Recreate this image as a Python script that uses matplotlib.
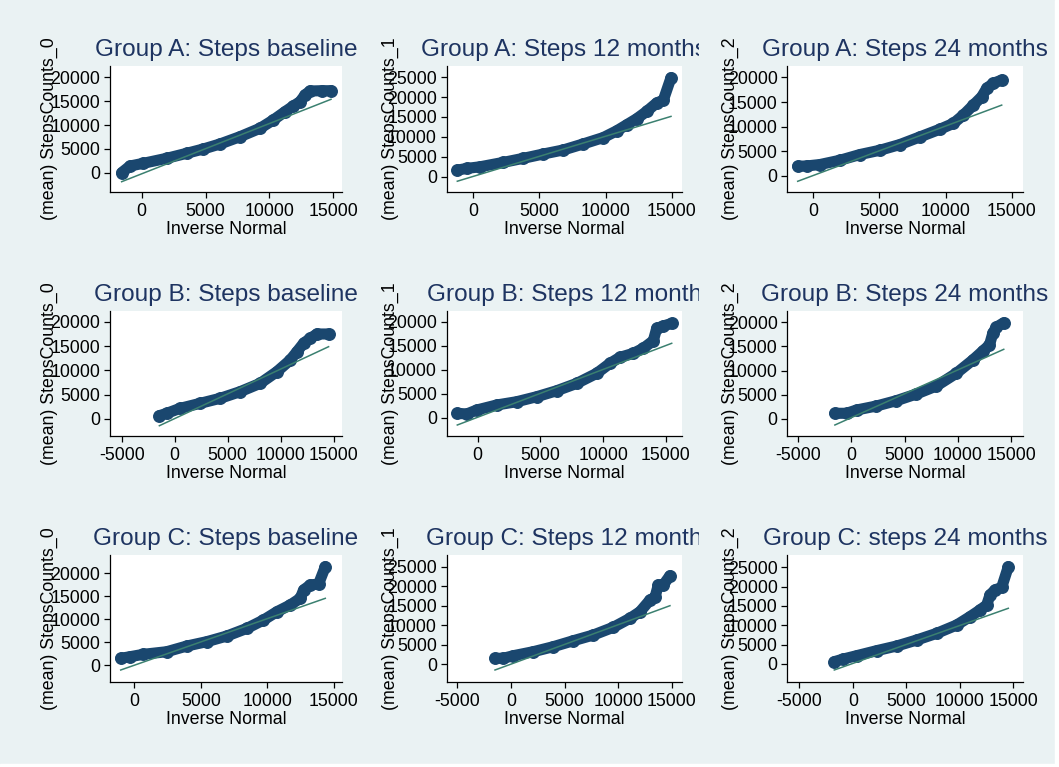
import numpy as np
import matplotlib
matplotlib.use("Agg")
from matplotlib import pyplot as plt
from matplotlib.transforms import Bbox, TransformedBbox
from matplotlib.patches import Rectangle

plt.rcParams['font.family'] = ['Liberation Sans', 'DejaVu Sans']
plt.rcParams['axes.unicode_minus'] = False

# panel titles, row by row
titles = ["Group A: Steps baseline", "Group A: Steps 12 months", "Group A: Steps 24 months",
          "Group B: Steps baseline", "Group B: Steps 12 month", "Group B: Steps 24 months",
          "Group C: Steps baseline", "Group C: Steps 12 month", "Group C: steps 24 months"]
ylabels = ["(mean) StepsCounts_0", "(mean) StepsCounts_1", "(mean) StepsCounts_2"]
xlabel = "Inverse Normal"

a0_x = [-1570, -916, 125, 1958, 3524, 4824, 6131, 7698, 9264, 10306, 11222, 11872, 12396, 12788, 13180, 14096, 14824]
a0_y = [0, 1400, 1970, 3020, 4070, 4970, 6020, 7550, 9310, 11050, 12790, 13980, 14880, 16290, 17130, 17190, 17190]
a1_x = [-1209, -499, 506, 2268, 3779, 5291, 6803, 8314, 9826, 10839, 11595, 12351, 13107, 13862, 14361, 14943]
a1_y = [1690, 2120, 2525, 3630, 4650, 5730, 6740, 8260, 9850, 11540, 13050, 14570, 16410, 18530, 19190, 24850]
a2_x = [-1179, -499, 506, 2018, 3530, 5042, 6553, 8065, 9577, 10582, 11338, 12094, 12729, 13107, 13605, 14240]
a2_y = [1970, 2030, 2320, 3190, 4350, 5220, 6380, 7930, 9490, 10650, 12340, 14370, 16060, 17770, 18790, 19460]
b0_x = [-1446, -747, 510, 2401, 4291, 6181, 8072, 9650, 10907, 11540, 12164, 12798, 13431, 14528]
b0_y = [680, 1170, 2190, 3220, 4250, 5620, 7330, 9730, 12120, 13830, 15550, 16580, 17470, 17470]
b1_x = [-1625, -876, -80, 1514, 3108, 4701, 6295, 7888, 9482, 10542, 11339, 12398, 13195, 13992, 14263, 14789, 15458]
b1_y = [920, 770, 1600, 2650, 3330, 4370, 5620, 7150, 9240, 11330, 12580, 13410, 14460, 16040, 18620, 19100, 19660]
b2_x = [-1560, -464, 473, 2348, 4222, 6097, 7971, 9846, 11401, 12338, 12966, 13275, 13594, 14306]
b2_y = [1180, 1180, 1860, 2690, 3790, 5170, 6820, 9450, 12200, 14060, 15300, 17720, 18960, 19910]
c0_x = [-1025, -324, 678, 2442, 3949, 5456, 6963, 8470, 9721, 10731, 11733, 12487, 12736, 13240, 13866, 14371]
c0_y = [1460, 1810, 2330, 2900, 4140, 5090, 6320, 7990, 9810, 11620, 13090, 14540, 16360, 17450, 17670, 21440]
c1_x = [-1483, -709, 224, 2090, 3955, 5821, 7687, 9552, 11110, 12043, 12976, 13442, 13750, 14216, 14838]
c1_y = [1540, 1540, 2200, 3230, 4510, 6040, 7500, 9480, 11780, 13470, 16470, 17160, 20310, 20310, 22690]
c2_x = [-1729, -888, 364, 2234, 4103, 5972, 7841, 9710, 10953, 11888, 12514, 12822, 13290, 13916, 14533]
c2_y = [600, 1290, 2150, 3450, 4650, 6200, 7930, 10080, 12230, 13960, 15250, 17840, 19130, 19830, 25150]

# reference line end values (y at first and last quantile)
ref_y = [(-1887, 15388), (-1090, 15150), (-1080, 14370),
         (-1380, 14860), (-1520, 15500), (-1240, 14410),
         (-1090, 14540), (-1460, 15010), (-1550, 14400)]

xlims = [(-2482, 15685), (-2011, 15752), (-1965, 15828),
         (-6106, 15794), (-2470, 16255), (-6031, 16087),
         (-1831, 15629), (-5989, 15933), (-6121, 15879)]
ylims = [(-4046, 22369), (-3788, 27775), (-3252, 22302),
         (-3432, 22256), (-3750, 22292), (-3454, 22397),
         (-3642, 23991), (-4456, 27992), (-4576, 28177)]
xtick_lo = [0, 0, 0, -5000, 0, -5000, 0, -5000, -5000]
ytick_hi = [20000, 25000, 20000, 20000, 20000, 20000, 20000, 25000, 25000]

xs = [a0_x, a1_x, a2_x, b0_x, b1_x, b2_x, c0_x, c1_x, c2_x]
ys = [a0_y, a1_y, a2_y, b0_y, b1_y, b2_y, c0_y, c1_y, c2_y]

W, H = 1059, 767
bg = "#EAF2F3"
navy = "#1A476F"
green = "#3B8070"
title_col = "#1E3461"

fig = plt.figure(figsize=(W / 100, H / 100), dpi=100, facecolor=bg)
fig.patches.append(Rectangle((1 - 4 / W, 0), 4 / W, 1, transform=fig.transFigure, color="white", zorder=0))
fig.patches.append(Rectangle((0, 0), 1, 3 / H, transform=fig.transFigure, color="white", zorder=0))

def fx(px):
    return px / W

def fy(py):
    return 1 - py / H

col_l = [110, 446.7, 787.3]
col_r = [342, 681.7, 1022.7]
row_t = [66, 310.7, 555]
row_b = [192, 435.7, 681.7]
ylab_off = [61, 56, 57]

for i in range(9):
    r, c = i // 3, i % 3
    L, R, T, B = col_l[c], col_r[c], row_t[r], row_b[r]
    ax = fig.add_axes([fx(L), fy(B), (R - L) / W, (B - T) / H])
    ax.set_facecolor("white")
    x = xs[i]
    y = ys[i]
    ax.plot(x, y, color=navy, lw=8, solid_capstyle="round", solid_joinstyle="round", zorder=2)
    ax.plot(x, y, "o", color=navy, ms=8.3, zorder=2)
    ax.plot([x[0], x[-1]], list(ref_y[i]), color=green, lw=1.1, zorder=3)
    ax.set_xlim(xlims[i])
    ax.set_ylim(ylims[i])
    ax.set_xticks(np.arange(xtick_lo[i], 15001, 5000))
    ax.set_yticks(np.arange(0, ytick_hi[i] + 1, 5000))
    for s in ["top", "right"]:
        ax.spines[s].set_visible(False)
    for s in ["left", "bottom"]:
        ax.spines[s].set_linewidth(0.9)
    ax.tick_params(direction="out", length=4, width=0.9, labelsize=12.8, colors="black")
    ax.tick_params(axis="y", pad=3)
    ax.tick_params(axis="x", pad=4)

    cx = (L + R) / 2
    t = fig.text(fx(cx), fy(T - 10), titles[i], ha="center", va="baseline",
                 fontsize=17.6, color=title_col)
    if c == 1:
        t.set_clip_box(TransformedBbox(Bbox([[0, 0], [699 / W, 1]]), fig.transFigure))
        t.set_clip_on(True)
    fig.text(fx(cx), fy(B + 42), xlabel, ha="center", va="baseline", fontsize=12.8)
    fig.text(fx(L - ylab_off[c]), fy((T + B) / 2), ylabels[c], rotation=90,
             ha="center", va="center", fontsize=12.8)

plt.savefig("out.png", dpi=100, facecolor=bg)
